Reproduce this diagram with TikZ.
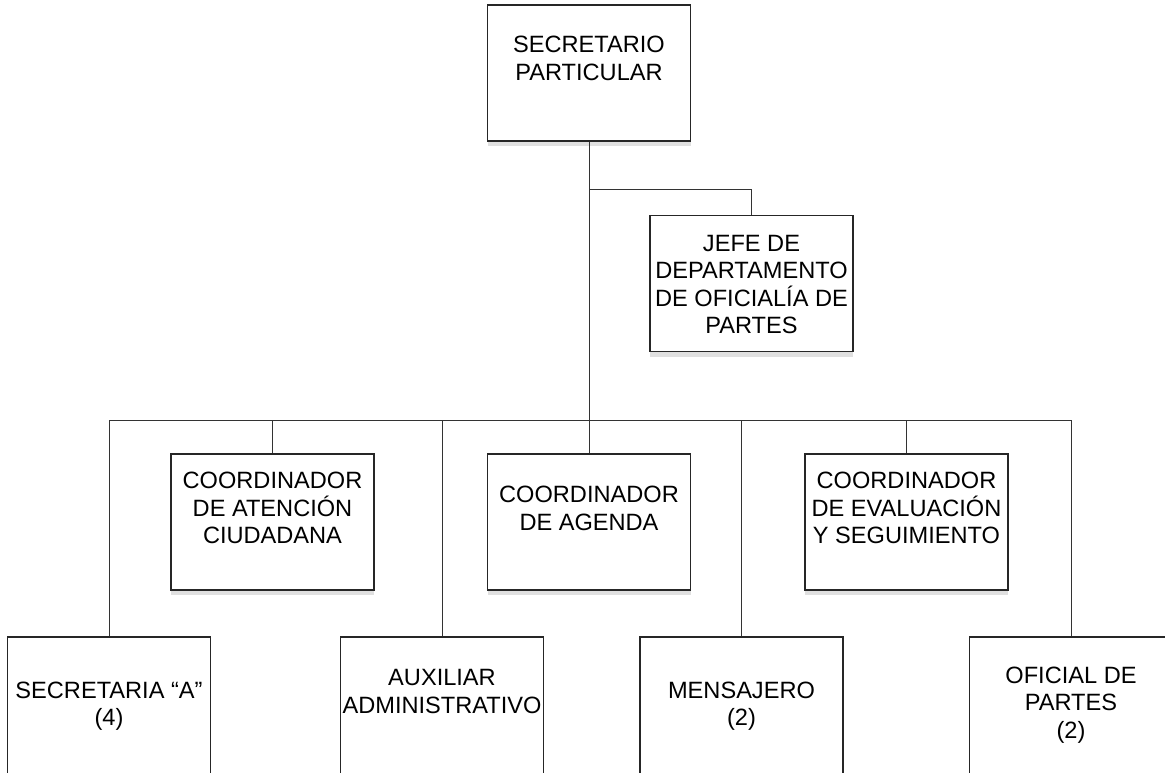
\documentclass[tikz,border=0pt]{standalone}
\usepackage{fontspec}
\setmainfont{Liberation Sans}
\usetikzlibrary{shadows}

\begin{document}
\begin{tikzpicture}[x=1pt,y=-1pt,
        puesto/.style={draw=black!85,line width=1.4pt,fill=white,minimum width=203pt,minimum height=136pt,inner sep=0pt,
            drop shadow={shadow xshift=0pt,shadow yshift=-5pt,fill=black!12,opacity=1}},
        cortado/.style={puesto,minimum height=170pt},
        texto/.style={align=center,inner sep=0pt,font=\fontsize{23.6}{27.3}\selectfont},
        linea/.style={draw=black!80,line width=0.9pt}]
        \useasboundingbox (0,0) rectangle (1165,772);

        \node[puesto] (sp) at (589,73) {};
        \node[puesto] (jefe) at (751.5,283.5) {};
        \node[puesto] (atencion) at (272.5,522) {};
        \node[puesto] (agenda) at (589,522) {};
        \node[puesto] (evaluacion) at (906.5,522) {};
        \node[cortado] (secretaria) at (109,722) {};
        \node[cortado] (auxiliar) at (442,722) {};
        \node[cortado] (mensajero) at (741.5,722) {};
        \node[cortado] (oficial) at (1071,722) {};

        \node[texto] (sp-t) at ([yshift=14.5pt]sp.center) {SECRETARIO\\PARTICULAR};
        \node[texto] (jefe-t) at ([yshift=-1pt]jefe.center) {JEFE DE\\DEPARTAMENTO\\DE OFICIALÍA DE\\PARTES};
        \node[texto] (atencion-t) at ([yshift=14pt]atencion.center) {COORDINADOR\\DE ATENCIÓN\\CIUDADANA};
        \node[texto] (agenda-t) at ([yshift=13.5pt]agenda.center) {COORDINADOR\\DE AGENDA};
        \node[texto] (evaluacion-t) at ([yshift=14pt]evaluacion.center) {COORDINADOR\\DE EVALUACIÓN\\Y SEGUIMIENTO};
        \node[texto] (secretaria-t) at ([yshift=16pt]secretaria.center) {SECRETARIA “A”\\(4)};
        \node[texto] (auxiliar-t) at ([yshift=30.5pt]auxiliar.center) {AUXILIAR\\ADMINISTRATIVO};
        \node[texto] (mensajero-t) at ([yshift=16pt]mensajero.center) {MENSAJERO\\(2)};
        \node[texto] (oficial-t) at ([yshift=17pt]oficial.center) {OFICIAL DE\\PARTES\\(2)};

        \coordinate (bus) at (589,420);
        \coordinate (ramal) at (589,189);
        \draw[linea] (sp.south) -- (bus);
        \draw[linea] (ramal) -| (jefe.north);
        \draw[linea] (bus -| secretaria.north) -- (bus -| oficial.north);
        \foreach \p in {secretaria,atencion,auxiliar,agenda,mensajero,evaluacion,oficial}
            \draw[linea] (bus -| \p.north) -- (\p.north);
    \end{tikzpicture}
\end{document}
